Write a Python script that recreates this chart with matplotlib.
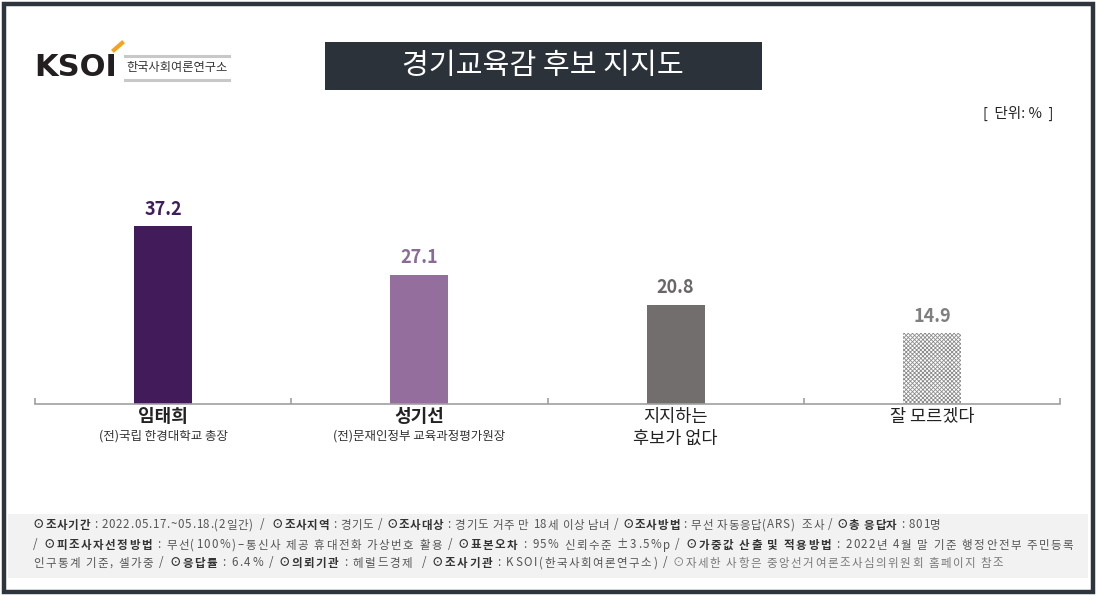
import matplotlib
matplotlib.use('Agg')
import matplotlib.pyplot as plt
from matplotlib.patches import Rectangle

plt.rcParams['font.family'] = ['Noto Sans CJK KR', 'DejaVu Sans']
plt.rcParams['hatch.linewidth'] = 0.6

# data
names = ['임태희', '성기선', '지지하는\n후보가 없다', '잘 모르겠다']
subs = ['(전)국립 한경대학교 총장', '(전)문재인정부 교육과정평가원장', '', '']
bold_names = [True, True, False, False]
values = [37.2, 27.1, 20.8, 14.9]
bar_colors = ['#411b5a', '#946f9e', '#736e6e', '#bdbdbd']
label_colors = ['#3f1d5c', '#8a6a96', '#6b6767', '#7f7f7f']

W, H = 1097, 596
fig = plt.figure(figsize=(W / 100, H / 100), dpi=100)
fig.patch.set_facecolor('white')

def fx(px):
    return px / W

def fy(py):
    return 1 - py / H

# outer frame
fig.patches.append(Rectangle((fx(4), fy(592)), fx(1089), 1 - 8 / H, transform=fig.transFigure,
                             fill=False, edgecolor='#2f353d', linewidth=3.2))

# title box
fig.patches.append(Rectangle((fx(325), fy(90)), fx(437), 48 / H, transform=fig.transFigure,
                             facecolor='#2b323a', edgecolor='none'))
fig.text(fx(543), fy(66), '경기교육감 후보 지지도', color='white', fontsize=21,
         ha='center', va='center')

# logo
fig.text(fx(34), fy(67), 'KSOI', fontsize=22, fontweight='bold', color='#231f20',
         ha='left', va='center', family=['DejaVu Sans'])
fig.add_artist(plt.Line2D([fx(114), fx(122)], [fy(50), fy(43)], color='#f5a31a', linewidth=3,
                          transform=fig.transFigure))
for yy in (56, 80):
    fig.add_artist(plt.Line2D([fx(125), fx(229)], [fy(yy), fy(yy)], color='#c8c8c8', linewidth=2.2,
                              transform=fig.transFigure))
fig.text(fx(177), fy(68), '한국사회여론연구소', fontsize=8.8, color='#333333', ha='center', va='center')

fig.text(fx(1053), fy(113), '[  단위: %  ]', fontsize=10.5, color='#222222', ha='right', va='center')

# chart
ax = fig.add_axes([fx(35), fy(404), fx(1025), 215 / H])
x = list(range(len(values)))
bars = ax.bar(x, values, width=0.226, color=bar_colors, zorder=2)
bars[3].set_hatch('xxxxxxxx')
bars[3].set_edgecolor('#8c8c8c')
bars[3].set_facecolor('#ffffff')
bars[3].set_linewidth(0)

for xi, v, c in zip(x, values, label_colors):
    ax.text(xi, v + 1.5, f'{v}', ha='center', va='bottom', fontsize=13, fontweight='bold', color=c)

ax.set_xlim(-0.5, 3.5)
ax.set_ylim(0, 45)
for s in ['top', 'right', 'left']:
    ax.spines[s].set_visible(False)
ax.spines['bottom'].set_color('#a0a0a0')
ax.spines['bottom'].set_linewidth(1.2)
ax.set_yticks([])
ax.set_xticks([-0.5, 0.5, 1.5, 2.5, 3.5])
ax.set_xticklabels([])
ax.tick_params(axis='x', direction='in', length=4, color='#a0a0a0', width=1.2)

tr = ax.get_xaxis_transform()
for xi, n, s, b in zip(x, names, subs, bold_names):
    lines = n.split('\n')
    for k, ln in enumerate(lines):
        ax.text(xi, -13 / 215 - k * 22 / 215, ln, transform=tr, ha='center', va='center',
                fontsize=13 if b else 12.6, fontweight='bold' if b else 'normal', color='#222222')
    if s:
        ax.text(xi, -32 / 215, s, transform=tr, ha='center', va='center', fontsize=9,
                color='#333333')

# footer
fig.patches.append(Rectangle((fx(8), fy(578)), fx(1080), 64 / H, transform=fig.transFigure,
                             facecolor='#f2f2f2', edgecolor='none'))

foot = [
    [('⊙조사기간', 'b'), (' : 2022.05.17.~05.18.(2일간)  /  ', 'r'), ('⊙조사지역', 'b'), (' : 경기도 / ', 'r'),
     ('⊙조사대상', 'b'), (' : 경기도 거주 만 18세 이상 남녀 / ', 'r'), ('⊙조사방법', 'b'),
     (' : 무선 자동응답(ARS)  조사 / ', 'r'), ('⊙총 응답자', 'b'), (' : 801명', 'r')],
    [('/ ', 'r'), ('⊙피조사자선정방법', 'b'), (' : 무선(100%)–통신사 제공 휴대전화 가상번호 활용 / ', 'r'),
     ('⊙표본오차', 'b'), (' : 95% 신뢰수준 ±3.5%p / ', 'r'), ('⊙가중값 산출 및 적용방법', 'b'),
     (' : 2022년 4월 말 기준 행정안전부 주민등록', 'r')],
    [('인구통계 기준, 셀가중 / ', 'r'), ('⊙응답률', 'b'), (' : 6.4% / ', 'r'), ('⊙의뢰기관', 'b'),
     (' : 헤럴드경제  / ', 'r'), ('⊙조사기관', 'b'), (' : KSOI(한국사회여론연구소) / ', 'r'),
     ('⊙자세한 사항은 중앙선거여론조사심의위원회 홈페이지 참조', 'g')],
]
foot_y = [525, 545, 563]
foot_w = [908, 1042, 972]
foot_fs = 8.3
colors = {'b': '#333333', 'r': '#555555', 'g': '#7a7a7a'}

renderer = fig.canvas.get_renderer()
width_cache = {}

def char_w(c, weight):
    key = (c, weight)
    if key not in width_cache:
        t1 = fig.text(0, 0, '|' + c + '|', fontsize=foot_fs, fontweight=weight)
        t2 = fig.text(0, 0, '||', fontsize=foot_fs, fontweight=weight)
        width_cache[key] = t1.get_window_extent(renderer).width - t2.get_window_extent(renderer).width
        t1.remove()
        t2.remove()
    return width_cache[key]

for segs, yy, target in zip(foot, foot_y, foot_w):
    chars = []
    for txt, st in segs:
        weight = 'bold' if st == 'b' else 'normal'
        for c in txt:
            chars.append((c, st, weight, char_w(c, weight)))
    natural = sum(c[3] for c in chars)
    extra = max(0, (target - natural) / len(chars))
    xpos = 33
    for c, st, weight, w in chars:
        if c != ' ':
            fig.text(fx(xpos), fy(yy), c, fontsize=foot_fs, va='center', ha='left',
                     fontweight=weight, color=colors[st])
        xpos += w + extra

fig.savefig('out.png', dpi=100)
